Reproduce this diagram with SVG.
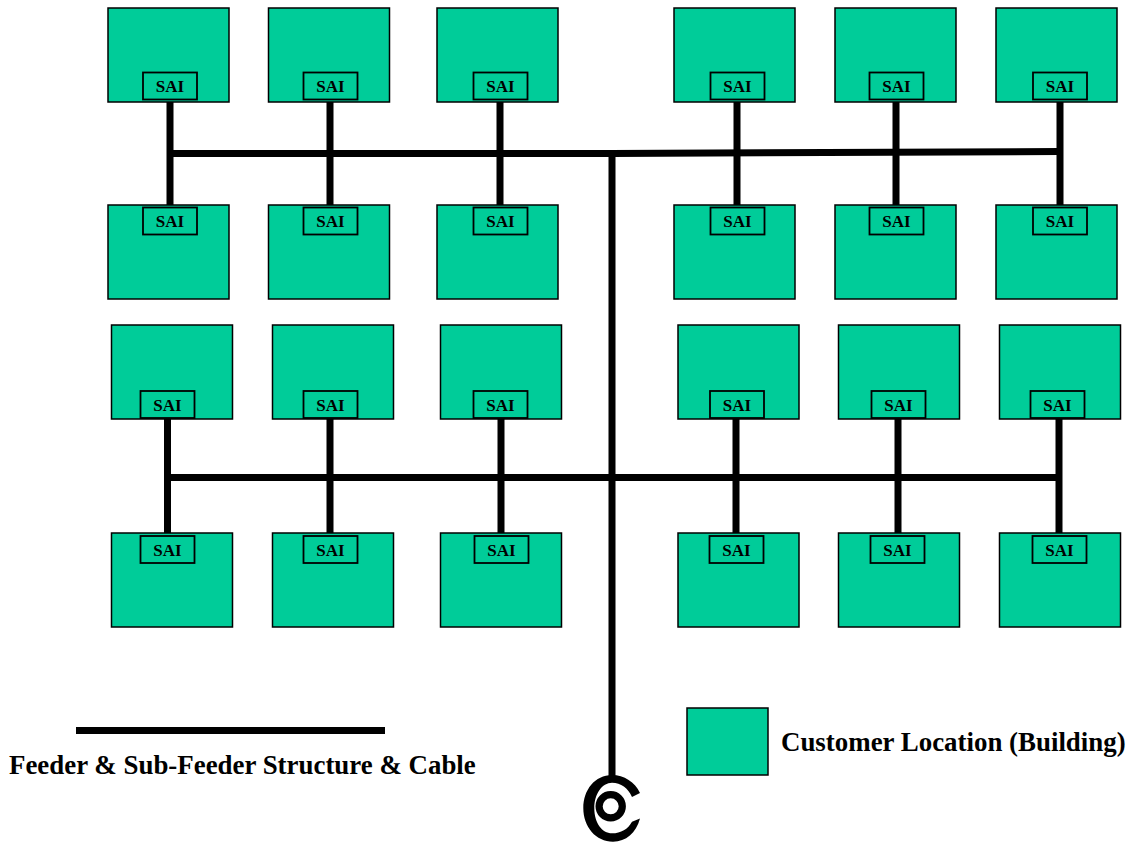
<svg xmlns="http://www.w3.org/2000/svg" width="1132" height="844" viewBox="0 0 1132 844">
<style>
.b{fill:#00cc99;stroke:#000;stroke-width:1.5}
.s{fill:none;stroke:#000;stroke-width:1.8}
.t{font-family:"Liberation Serif","Times New Roman",serif;font-weight:bold;fill:#000}
.l{font-size:17px;text-anchor:middle}
.g{font-size:26.9px}
.c{fill:none;stroke:#000;stroke-width:7}
</style>
<defs>
<rect id="bd" class="b" width="121" height="94"/>
<g id="sai"><rect class="s" x="-27" y="0" width="54" height="27"/><text class="t l" x="0" y="19.500">SAI</text></g>
</defs>
<g id="connectors">
<path class="c" d="M170 100V205M330 100V205M500 100V205M737 100V205M896 100V205M1060 100V205"/>
<path class="c" d="M170 153.500H612L1060 151.500"/>
<path class="c" d="M167.500 418V536M330 418V536M501 418V536M736 418V536M898 418V536M1059 418V536"/>
<path class="c" d="M167 477.500H1059"/>
<path class="c" d="M612 153V778"/>
</g>
<g id="n1"><use href="#bd" x="108" y="8"/><use href="#sai" x="170" y="72.500"/></g>
<g id="n2"><use href="#bd" x="268.500" y="8"/><use href="#sai" x="330.500" y="72.500"/></g>
<g id="n3"><use href="#bd" x="437" y="8"/><use href="#sai" x="500.500" y="72.500"/></g>
<g id="n4"><use href="#bd" x="674" y="8"/><use href="#sai" x="737.500" y="72.500"/></g>
<g id="n5"><use href="#bd" x="835" y="8"/><use href="#sai" x="896.500" y="72.500"/></g>
<g id="n6"><use href="#bd" x="996" y="8"/><use href="#sai" x="1060" y="72.500"/></g>
<g id="n7"><use href="#bd" x="108" y="205"/><use href="#sai" x="170" y="207.500"/></g>
<g id="n8"><use href="#bd" x="268.500" y="205"/><use href="#sai" x="330.500" y="207.500"/></g>
<g id="n9"><use href="#bd" x="437" y="205"/><use href="#sai" x="500.500" y="207.500"/></g>
<g id="n10"><use href="#bd" x="674" y="205"/><use href="#sai" x="737.500" y="207.500"/></g>
<g id="n11"><use href="#bd" x="835" y="205"/><use href="#sai" x="896.500" y="207.500"/></g>
<g id="n12"><use href="#bd" x="996" y="205"/><use href="#sai" x="1060" y="207.500"/></g>
<g id="n13"><use href="#bd" x="111.500" y="325"/><use href="#sai" x="167.500" y="391"/></g>
<g id="n14"><use href="#bd" x="272.500" y="325"/><use href="#sai" x="330.500" y="391"/></g>
<g id="n15"><use href="#bd" x="440.500" y="325"/><use href="#sai" x="500.500" y="391"/></g>
<g id="n16"><use href="#bd" x="678" y="325"/><use href="#sai" x="737" y="391"/></g>
<g id="n17"><use href="#bd" x="838.500" y="325"/><use href="#sai" x="898.500" y="391"/></g>
<g id="n18"><use href="#bd" x="999.500" y="325"/><use href="#sai" x="1057.500" y="391"/></g>
<g id="n19"><use href="#bd" x="111.500" y="533"/><use href="#sai" x="167.500" y="536"/></g>
<g id="n20"><use href="#bd" x="272.500" y="533"/><use href="#sai" x="330.500" y="536"/></g>
<g id="n21"><use href="#bd" x="440.500" y="533"/><use href="#sai" x="501.500" y="536"/></g>
<g id="n22"><use href="#bd" x="678" y="533"/><use href="#sai" x="736.500" y="536"/></g>
<g id="n23"><use href="#bd" x="838.500" y="533"/><use href="#sai" x="897.500" y="536"/></g>
<g id="n24"><use href="#bd" x="999.500" y="533"/><use href="#sai" x="1059.500" y="536"/></g>
<g id="coil">
<path fill="#000" d="M640 793C635 782 624 775 612 775C595 775 583.300 790 583.300 808C583.300 827 596 841.700 613 841.700C626 841.700 636 833 640 818.500L632 821.700C628 829 621 833.300 612 833.300C602 833.300 594.300 823 594.300 808C594.300 794 602 782.700 612 782.700C621 782.700 628 788 632 797Z"/>
<circle cx="610.700" cy="806.300" r="11.600" fill="none" stroke="#000" stroke-width="7.200"/>
</g>
<g id="legend">
<path d="M76 730.500H385" stroke="#000" stroke-width="7" fill="none"/>
<rect class="b" x="687" y="708" width="81" height="67"/>
<text class="t g" x="781" y="751">Customer Location (Building)</text>
<text class="t g" x="9" y="774">Feeder &amp; Sub-Feeder Structure &amp; Cable</text>
</g>
</svg>
